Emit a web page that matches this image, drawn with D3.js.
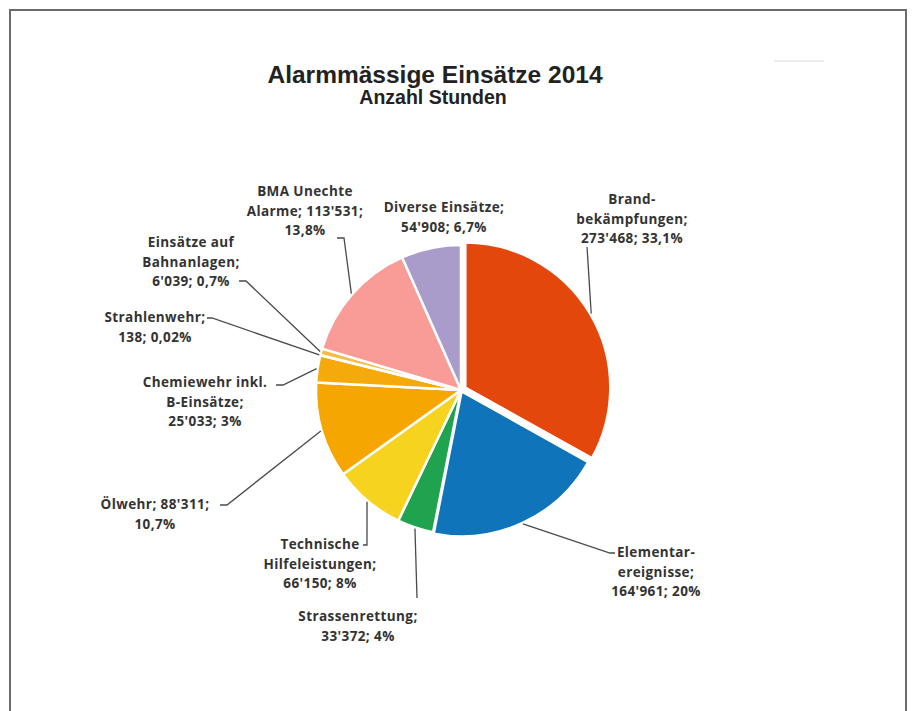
<!DOCTYPE html>
<html>
<head>
<meta charset="utf-8">
<script src="https://cdn.jsdelivr.net/npm/d3@7"></script>
<style>
	body { margin: 0; background: #fff; }
	svg { display: block; }
	.lbl { font-family: "Open Sans", Lato, sans-serif; font-weight: bold; font-size: 13.5px; letter-spacing: 0.4px; fill: #333; }
</style>
</head>
<body>
<div id="pie-chart"></div>
<script>
// data (Anzahl Stunden 2014)
var categories = ["Brandbekämpfungen", "Elementarereignisse", "Strassenrettung", "Technische Hilfeleistungen",
	"Ölwehr", "Chemiewehr inkl. B-Einsätze", "Strahlenwehr", "Einsätze auf Bahnanlagen",
	"BMA Unechte Alarme", "Diverse Einsätze"];
var hours = [273468, 164961, 33372, 66150, 88311, 25033, 138, 6039, 113531, 54908];
var percentLabels = ["33,1%", "20%", "4%", "8%", "10,7%", "3%", "0,02%", "0,7%", "13,8%", "6,7%"];
var labelLines = [
	["Brand-", "bekämpfungen;", "273'468; 33,1%"],
	["Elementar-", "ereignisse;", "164'961; 20%"],
	["Strassenrettung;", "33'372; 4%"],
	["Technische", "Hilfeleistungen;", "66'150; 8%"],
	["Ölwehr; 88'311;", "10,7%"],
	["Chemiewehr inkl.", "B-Einsätze;", "25'033; 3%"],
	["Strahlenwehr;", "138; 0,02%"],
	["Einsätze auf", "Bahnanlagen;", "6'039; 0,7%"],
	["BMA Unechte", "Alarme; 113'531;", "13,8%"],
	["Diverse Einsätze;", "54'908; 6,7%"]
];
var colors = ["#E3470C", "#0F74BA", "#1FA34F", "#F6D31E", "#F5A600", "#F5A90A", "#F3B840", "#F7BC45", "#F99C98", "#A99BCA"];

// layout: label block centre, leader elbow and end (null = no leader)
var labelLayout = [
	{x: 632, y: 204, elbow: [587, 247], end: null},
	{x: 656, y: 557, elbow: [610, 553], end: [615, 553]},
	{x: 358, y: 621, elbow: [417, 598], end: null},
	{x: 320, y: 549, elbow: [367, 545], end: [363, 545]},
	{x: 155, y: 509, elbow: [227, 505], end: [220, 505]},
	{x: 205, y: 387, elbow: [283, 385], end: [276, 385]},
	{x: 155, y: 322, elbow: [212, 318], end: [207, 318]},
	{x: 191, y: 247, elbow: [246, 281], end: [239, 281]},
	{x: 305, y: 196, elbow: [344, 238], end: [337, 238]},
	{x: 444, y: 212, elbow: null, end: null}
];

var W = 912, H = 711;
var cx = 461, cy = 390, R = 145;
var explode = [5, 1.5, 0, 0, 0, 0, 0, 0, 0, 0];

var svg = d3.select("#pie-chart").append("svg")
	.attr("width", W)
	.attr("height", H);

// frame
svg.append("path")
	.attr("d", "M10," + (H + 5) + "V10H906V" + (H + 5))
	.attr("fill", "none")
	.attr("stroke", "#6b6b6b")
	.attr("stroke-width", 2);

// faint mark top right
svg.append("line")
	.attr("x1", 774).attr("x2", 824)
	.attr("y1", 61).attr("y2", 61)
	.attr("stroke", "#ececec")
	.attr("stroke-width", 2);

// titles
svg.append("text")
	.attr("x", 435).attr("y", 83)
	.attr("text-anchor", "middle")
	.style("font-family", "Liberation Sans, Arial, sans-serif")
	.style("font-weight", "bold")
	.style("font-size", "24.5px")
	.style("fill", "#222")
	.text("Alarmmässige Einsätze 2014");

svg.append("text")
	.attr("x", 433).attr("y", 104)
	.attr("text-anchor", "middle")
	.style("font-family", "Liberation Sans, Arial, sans-serif")
	.style("font-weight", "bold")
	.style("font-size", "19.5px")
	.style("fill", "#222")
	.text("Anzahl Stunden");

var pie = d3.pie().sort(null).value(function(d) { return d; });
var arcs = pie(hours);
var arc = d3.arc().innerRadius(0).outerRadius(R);

var g = svg.append("g").attr("transform", "translate(" + cx + "," + cy + ")");

g.selectAll("path.slice")
	.data(arcs)
	.enter()
	.append("path")
	.attr("class", "slice")
	.attr("d", arc)
	.attr("transform", function(d, i) {
		var a = (d.startAngle + d.endAngle) / 2;
		return "translate(" + (Math.sin(a) * explode[i]) + "," + (-Math.cos(a) * explode[i]) + ")";
	})
	.style("fill", function(d, i) { return colors[i]; })
	.attr("stroke", "white")
	.attr("stroke-width", 2.5)
	.attr("stroke-linejoin", "round");

// leader lines
arcs.forEach(function(d, i) {
	var lay = labelLayout[i];
	if (!lay.elbow) return;
	var a = (d.startAngle + d.endAngle) / 2;
	var rr = R + explode[i] + 1;
	var pts = [[cx + Math.sin(a) * rr, cy - Math.cos(a) * rr], lay.elbow];
	if (lay.end) pts.push(lay.end);
	svg.append("path")
		.attr("d", d3.line()(pts))
		.attr("fill", "none")
		.attr("stroke", "#4a4a4a")
		.attr("stroke-width", 1.3);
});

// labels
var lineH = 19.5;
labelLines.forEach(function(lines, i) {
	var lay = labelLayout[i];
	var t = svg.append("text")
		.attr("class", "lbl")
		.attr("text-anchor", "middle");
	lines.forEach(function(s, k) {
		t.append("tspan")
			.attr("x", lay.x)
			.attr("y", lay.y + k * lineH)
			.text(s);
	});
});
</script>
</body>
</html>
